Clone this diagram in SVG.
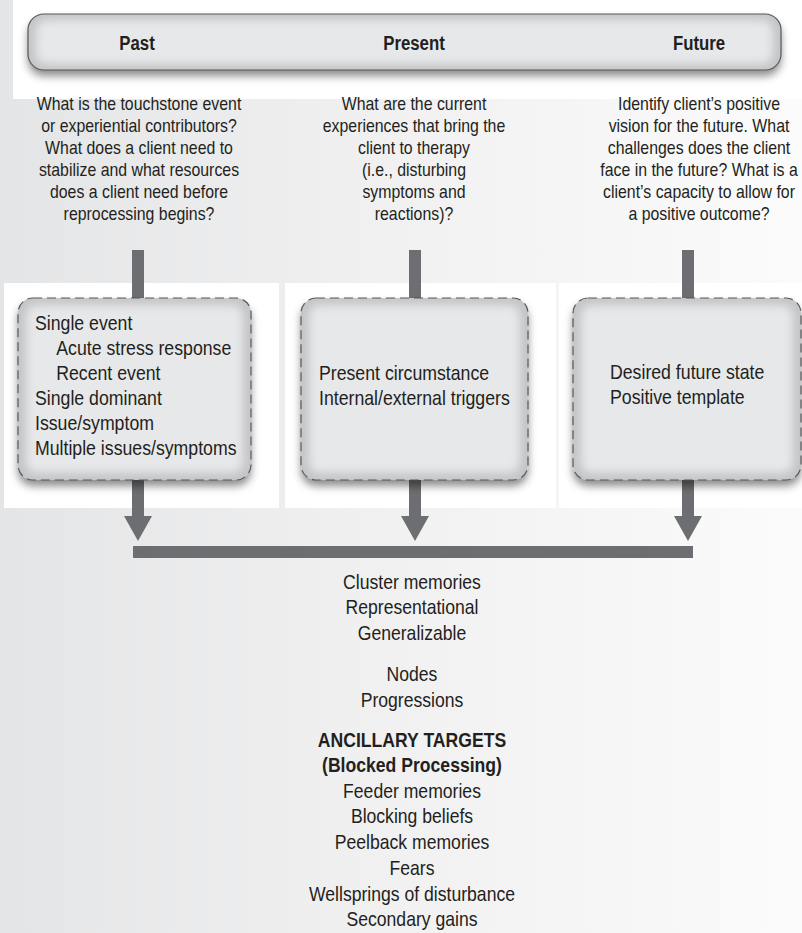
<svg xmlns="http://www.w3.org/2000/svg" width="802" height="933" viewBox="0 0 802 933">
  <defs>
    <linearGradient id="bg" x1="0" y1="0" x2="1" y2="0">
      <stop offset="0" stop-color="#e4e5e6"/>
      <stop offset="0.45" stop-color="#f0f0f1"/>
      <stop offset="1" stop-color="#fbfbfb"/>
    </linearGradient>
    <filter id="drop" x="-10%" y="-20%" width="120%" height="150%">
      <feDropShadow dx="0" dy="6" stdDeviation="4" flood-color="#000" flood-opacity="0.45"/>
    </filter>
    <filter id="soft" x="-10%" y="-10%" width="120%" height="120%">
      <feGaussianBlur stdDeviation="5"/>
    </filter>
    <clipPath id="clipBar"><rect x="28" y="14" width="753" height="56" rx="16"/></clipPath>
    <clipPath id="clipB1"><rect x="18" y="298" width="233" height="182" rx="15"/></clipPath>
    <clipPath id="clipB2"><rect x="301" y="298" width="227" height="182" rx="15"/></clipPath>
    <clipPath id="clipB3"><rect x="573" y="298" width="228" height="182" rx="15"/></clipPath>
  </defs>
  <style>
    text { font-family: "Liberation Sans", Arial, "Helvetica", sans-serif; fill: #231f20; }
    .hd { font-size: 21px; font-weight: bold; text-anchor: middle; }
    .q { font-size: 19px; text-anchor: middle; }
    .bx { font-size: 20px; }
    .lst { font-size: 20px; text-anchor: middle; }
    .lstb { font-size: 20px; text-anchor: middle; font-weight: bold; }
    .edge { fill: #c3c4c6; }
    .face { fill: #e7e8e9; filter: url(#soft); }
    .dash { fill: none; stroke: #58595b; stroke-width: 1.2; stroke-dasharray: 9 5; }
    .conn { fill: #6d6e71; }
    .panel { fill: #ffffff; }
  </style>

  <!-- page background -->
  <rect x="0" y="0" width="802" height="933" fill="url(#bg)"/>
  <rect class="panel" x="13" y="0" width="789" height="99"/>
  <rect class="panel" x="4" y="283" width="275" height="225"/>
  <rect class="panel" x="285" y="283" width="271" height="225"/>
  <rect class="panel" x="559" y="283" width="243" height="225"/>

  <!-- timeline header (text is horizontally condensed) -->
  <g id="timeline">
    <rect x="28" y="14" width="753" height="56" rx="16" class="edge" filter="url(#drop)"/>
    <rect x="36" y="20" width="737" height="44" rx="10" class="face" clip-path="url(#clipBar)"/>
    <rect x="28" y="14" width="753" height="56" rx="16" fill="none" stroke="#58595b" stroke-width="1.2"/>
    <text class="hd" transform="translate(137 0) scale(0.8 1)" x="0" y="50">Past</text>
    <text class="hd" transform="translate(414 0) scale(0.8 1)" x="0" y="50">Present</text>
    <text class="hd" transform="translate(699 0) scale(0.8 1)" x="0" y="50">Future</text>
  </g>

  <!-- guiding questions -->
  <g id="question-past" transform="translate(139 0) scale(0.835 1)">
    <text class="q" x="0" y="110">What is the touchstone event</text>
    <text class="q" x="0" y="132">or experiential contributors?</text>
    <text class="q" x="0" y="154">What does a client need to</text>
    <text class="q" x="0" y="176">stabilize and what resources</text>
    <text class="q" x="0" y="198">does a client need before</text>
    <text class="q" x="0" y="220">reprocessing begins?</text>
  </g>
  <g id="question-present" transform="translate(414 0) scale(0.835 1)">
    <text class="q" x="0" y="110">What are the current</text>
    <text class="q" x="0" y="132">experiences that bring the</text>
    <text class="q" x="0" y="154">client to therapy</text>
    <text class="q" x="0" y="176">(i.e., disturbing</text>
    <text class="q" x="0" y="198">symptoms and</text>
    <text class="q" x="0" y="220">reactions)?</text>
  </g>
  <g id="question-future" transform="translate(699 0) scale(0.835 1)">
    <text class="q" x="0" y="110">Identify client’s positive</text>
    <text class="q" x="0" y="132">vision for the future. What</text>
    <text class="q" x="0" y="154">challenges does the client</text>
    <text class="q" x="0" y="176">face in the future? What is a</text>
    <text class="q" x="0" y="198">client’s capacity to allow for</text>
    <text class="q" x="0" y="220">a positive outcome?</text>
  </g>

  <!-- connectors -->
  <g id="connectors">
    <rect class="conn" x="132" y="250" width="12" height="50"/>
    <rect class="conn" x="409" y="250" width="12" height="50"/>
    <rect class="conn" x="682" y="250" width="12" height="50"/>
    <path class="conn" d="M132 478 H144 V516 H152 L138 541 L124 516 H132 Z"/>
    <path class="conn" d="M409 478 H421 V516 H429 L415 541 L401 516 H409 Z"/>
    <path class="conn" d="M682 478 H694 V516 H702 L688 541 L674 516 H682 Z"/>
    <rect class="conn" x="133" y="546" width="560" height="12"/>
  </g>

  <!-- target boxes -->
  <g id="box-past">
    <rect x="18" y="298" width="233" height="182" rx="15" class="edge" filter="url(#drop)"/>
    <rect x="26" y="305" width="217" height="168" rx="10" class="face" clip-path="url(#clipB1)"/>
    <rect x="18" y="298" width="233" height="182" rx="15" class="dash"/>
    <g transform="translate(35 0) scale(0.885 1)">
      <text class="bx" x="0" y="330">Single event</text>
      <text class="bx" x="24" y="355.5">Acute stress response</text>
      <text class="bx" x="24" y="380.5">Recent event</text>
      <text class="bx" x="0" y="405.5">Single dominant</text>
      <text class="bx" x="0" y="430.5">Issue/symptom</text>
      <text class="bx" x="0" y="455.5">Multiple issues/symptoms</text>
    </g>
  </g>
  <g id="box-present">
    <rect x="301" y="298" width="227" height="182" rx="15" class="edge" filter="url(#drop)"/>
    <rect x="309" y="305" width="211" height="168" rx="10" class="face" clip-path="url(#clipB2)"/>
    <rect x="301" y="298" width="227" height="182" rx="15" class="dash"/>
    <g transform="translate(319 0) scale(0.885 1)">
      <text class="bx" x="0" y="380">Present circumstance</text>
      <text class="bx" x="0" y="405.5">Internal/external triggers</text>
    </g>
  </g>
  <g id="box-future">
    <rect x="573" y="298" width="228" height="182" rx="15" class="edge" filter="url(#drop)"/>
    <rect x="581" y="305" width="212" height="168" rx="10" class="face" clip-path="url(#clipB3)"/>
    <rect x="573" y="298" width="228" height="182" rx="15" class="dash"/>
    <g transform="translate(610 0) scale(0.885 1)">
      <text class="bx" x="0" y="379">Desired future state</text>
      <text class="bx" x="0" y="404">Positive template</text>
    </g>
  </g>

  <!-- memory targets -->
  <g id="targets" transform="translate(412 0) scale(0.88 1)">
    <text class="lst" x="0" y="589">Cluster memories</text>
    <text class="lst" x="0" y="614">Representational</text>
    <text class="lst" x="0" y="640">Generalizable</text>
    <text class="lst" x="0" y="681">Nodes</text>
    <text class="lst" x="0" y="707">Progressions</text>
    <text class="lstb" x="0" y="747">ANCILLARY TARGETS</text>
    <text class="lstb" x="0" y="772">(Blocked Processing)</text>
    <text class="lst" x="0" y="798">Feeder memories</text>
    <text class="lst" x="0" y="823">Blocking beliefs</text>
    <text class="lst" x="0" y="849">Peelback memories</text>
    <text class="lst" x="0" y="875">Fears</text>
    <text class="lst" x="0" y="901">Wellsprings of disturbance</text>
    <text class="lst" x="0" y="926">Secondary gains</text>
  </g>
</svg>
